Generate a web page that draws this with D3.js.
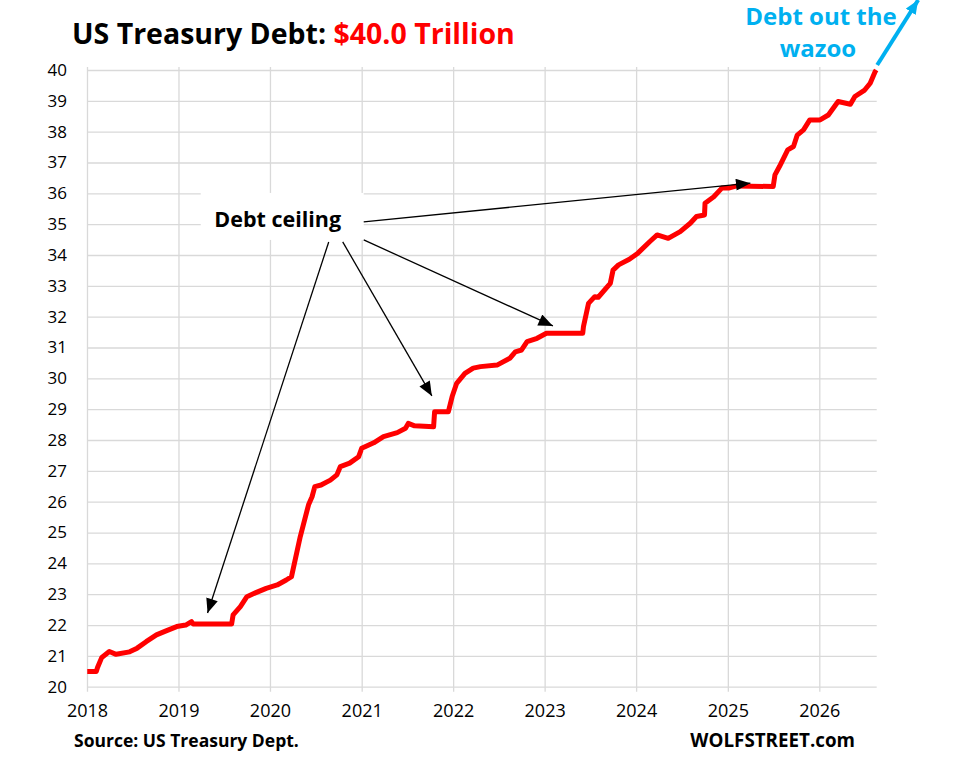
<!DOCTYPE html>
<html>
<head>
<meta charset="utf-8">
<script src="https://cdn.jsdelivr.net/npm/d3@7/dist/d3.min.js"></script>
<style>
  body { margin: 0; background: #fff; }
  svg { display: block; }
  text { font-family: "Open Sans", Lato, sans-serif; }
</style>
</head>
<body>
<div id="chart"></div>
<script>
// Total public debt outstanding, trillions of dollars
const dates = [
  '2018-01-02', '2018-02-07', '2018-02-12', '2018-03-01', '2018-03-31', '2018-04-27',
  '2018-06-20', '2018-07-20', '2018-08-25', '2018-10-05', '2018-11-15', '2018-12-25',
  '2019-01-30', '2019-02-22', '2019-03-01', '2019-08-01', '2019-08-07', '2019-09-05',
  '2019-10-01', '2019-11-06', '2019-12-17', '2020-01-30', '2020-03-06', '2020-03-27',
  '2020-05-01', '2020-06-03', '2020-06-17', '2020-06-28', '2020-07-23', '2020-08-29',
  '2020-09-24', '2020-10-08', '2020-11-14', '2020-12-20', '2021-01-01', '2021-02-18',
  '2021-03-29', '2021-05-23', '2021-06-25', '2021-07-06', '2021-07-31', '2021-10-15',
  '2021-10-19', '2021-12-13', '2021-12-28', '2022-01-15', '2022-02-17', '2022-03-22',
  '2022-04-20', '2022-06-25', '2022-08-15', '2022-09-06', '2022-10-01', '2022-10-23',
  '2022-12-02', '2023-01-08', '2023-06-02', '2023-06-05', '2023-06-25', '2023-07-20',
  '2023-08-03', '2023-09-20', '2023-10-01', '2023-10-23', '2023-12-05', '2024-01-08',
  '2024-02-24', '2024-03-25', '2024-05-08', '2024-06-25', '2024-08-04', '2024-08-29',
  '2024-09-30', '2024-10-02', '2024-11-06', '2024-12-08', '2025-01-04', '2025-02-06',
  '2025-07-01', '2025-07-08', '2025-07-26', '2025-08-28', '2025-09-20', '2025-10-05',
  '2025-10-30', '2025-11-24', '2026-01-04', '2026-02-06', '2026-03-17', '2026-05-05',
  '2026-05-23', '2026-07-01', '2026-07-23', '2026-08-12', '2026-08-16'
];
const debt = [
  20.49, 20.49, 20.62, 20.95, 21.14, 21.05,
  21.13, 21.25, 21.46, 21.68, 21.82, 21.95,
  22.00, 22.11, 22.03, 22.03, 22.33, 22.60,
  22.92, 23.05, 23.19, 23.30, 23.46, 23.57,
  24.87, 25.90, 26.16, 26.49, 26.54, 26.70,
  26.87, 27.14, 27.25, 27.46, 27.73, 27.91,
  28.11, 28.24, 28.38, 28.54, 28.46, 28.43,
  28.92, 28.92, 29.41, 29.84, 30.16, 30.33,
  30.38, 30.43, 30.65, 30.86, 30.92, 31.19,
  31.30, 31.46, 31.46, 31.68, 32.43, 32.65,
  32.63, 33.08, 33.51, 33.68, 33.86, 34.06,
  34.43, 34.65, 34.54, 34.76, 35.03, 35.25,
  35.30, 35.68, 35.89, 36.17, 36.17, 36.24,
  36.22, 36.60, 36.87, 37.41, 37.52, 37.89,
  38.06, 38.38, 38.38, 38.54, 38.98, 38.89,
  39.14, 39.35, 39.57, 39.95, 40.00
];

const yearTicks = [2018, 2019, 2020, 2021, 2022, 2023, 2024, 2025, 2026];
const debtTicks = [20, 21, 22, 23, 24, 25, 26, 27, 28, 29, 30,
                   31, 32, 33, 34, 35, 36, 37, 38, 39, 40];

// debt ceiling call-out: label position and arrow targets, in data units
const ceilingLabel = { date: '2020-02-01', value: 35.17, text: 'Debt ceiling' };
const ceilingTargets = [
  { date: '2025-04-01', value: 36.33 },
  { date: '2023-02-03', value: 31.70 },
  { date: '2021-10-08', value: 29.43 },
  { date: '2019-04-27', value: 22.39 }
];

const width = 962;
const height = 781;
const margin = { top: 70, right: 85.3, bottom: 94.3, left: 87 };
const parse = d3.timeParse('%Y-%m-%d');

const series = dates.map((d, i) => ({ date: parse(d), value: debt[i] }));

const svg = d3.select('#chart')
  .append('svg')
  .attr('width', width)
  .attr('height', height);

const x = d3.scaleTime()
  .domain([new Date(2018, 0, 1), new Date(2026, 7, 18)])
  .range([margin.left, width - margin.right]);

const y = d3.scaleLinear()
  .domain([20, 40])
  .range([height - margin.bottom, margin.top]);

// Y axis + horizontal gridlines
const yAxis = svg.append('g')
  .attr('transform', `translate(${margin.left},0)`)
  .call(d3.axisLeft(y)
    .tickValues(debtTicks)
    .tickSize(-(width - margin.right - margin.left))
    .tickPadding(20)
    .tickFormat(d3.format('d')));
yAxis.select('.domain').remove();
yAxis.selectAll('line').attr('stroke', '#d9d9d9').attr('stroke-width', 1.3);
yAxis.selectAll('text')
  .style('font-size', '17px')
  .attr('fill', '#000');

// X axis + vertical gridlines (they poke a little below the axis)
const xBase = height - margin.bottom + 5;
const xAxis = svg.append('g')
  .attr('transform', `translate(0,${xBase})`)
  .call(d3.axisBottom(x)
    .tickValues(yearTicks.map(yr => new Date(yr, 0, 1)))
    .tickSize(-(xBase - margin.top + 3))
    .tickPadding(13)
    .tickFormat(d3.timeFormat('%Y')));
xAxis.select('.domain').remove();
xAxis.selectAll('line').attr('stroke', '#d9d9d9').attr('stroke-width', 1.3);
xAxis.selectAll('text')
  .style('font-size', '18px')
  .attr('fill', '#000');

// Arrowheads
const defs = svg.append('defs');
defs.append('marker')
  .attr('id', 'arrow-black')
  .attr('markerUnits', 'userSpaceOnUse')
  .attr('viewBox', '0 0 12 10')
  .attr('refX', 12).attr('refY', 5)
  .attr('markerWidth', 15).attr('markerHeight', 12)
  .attr('orient', 'auto')
  .append('path')
  .attr('d', 'M0,0 L12,5 L0,10 Z')
  .attr('fill', '#000');
defs.append('marker')
  .attr('id', 'arrow-blue')
  .attr('markerUnits', 'userSpaceOnUse')
  .attr('viewBox', '0 0 12 10')
  .attr('refX', 12).attr('refY', 5)
  .attr('markerWidth', 14).attr('markerHeight', 12)
  .attr('orient', 'auto')
  .append('path')
  .attr('d', 'M0,0 L12,5 L0,10 Z')
  .attr('fill', '#00b0f0');

// Debt line
const line = d3.line()
  .x(d => x(d.date))
  .y(d => y(d.value));

svg.append('path')
  .datum(series)
  .attr('fill', 'none')
  .attr('stroke', '#ff0000')
  .attr('stroke-width', 5)
  .attr('stroke-linejoin', 'round')
  .attr('d', line);

// Debt ceiling label and arrows
const lx = x(parse(ceilingLabel.date));
const ly = y(ceilingLabel.value);

svg.append('rect')
  .attr('x', lx - 77)
  .attr('y', ly - 26)
  .attr('width', 163)
  .attr('height', 47)
  .attr('fill', '#fff');

svg.append('text')
  .attr('x', lx)
  .attr('y', ly + 8)
  .attr('text-anchor', 'middle')
  .style('font-size', '21.5px')
  .style('font-weight', 'bold')
  .text(ceilingLabel.text);

// starting points of the arrows, relative to the label centre
const arrowStarts = [[86, 3], [86, 21], [65, 23], [51, 23]];

svg.selectAll('.ceiling-arrow')
  .data(ceilingTargets)
  .enter()
  .append('line')
  .attr('class', 'ceiling-arrow')
  .attr('x1', (d, i) => lx + arrowStarts[i][0])
  .attr('y1', (d, i) => ly + arrowStarts[i][1])
  .attr('x2', d => x(parse(d.date)))
  .attr('y2', d => y(d.value))
  .attr('stroke', '#000')
  .attr('stroke-width', 1.3)
  .attr('marker-end', 'url(#arrow-black)');

// "Debt out the wazoo" arrow from the last point
const last = series[series.length - 1];
svg.append('line')
  .attr('x1', x(last.date) + 1)
  .attr('y1', y(last.value) - 5)
  .attr('x2', x(last.date) + 42)
  .attr('y2', y(last.value) - 70)
  .attr('stroke', '#00b0f0')
  .attr('stroke-width', 4)
  .attr('marker-end', 'url(#arrow-blue)');

const wazoo = svg.append('text')
  .attr('text-anchor', 'middle')
  .attr('fill', '#00b0f0')
  .style('font-size', '24px')
  .style('font-weight', 'bold');
wazoo.append('tspan').attr('x', 821).attr('y', 25).text('Debt out the');
wazoo.append('tspan').attr('x', 818).attr('y', 57).text('wazoo');

// Title
const title = svg.append('text')
  .attr('x', 72)
  .attr('y', 44)
  .style('font-size', '28.5px')
  .style('font-weight', 'bold');
title.append('tspan').attr('fill', '#000').text('US Treasury Debt: ');
title.append('tspan').attr('fill', '#ff0000').text('$40.0 Trillion');

// Footer
svg.append('text')
  .attr('x', 74)
  .attr('y', 747)
  .style('font-size', '17.5px')
  .style('font-weight', 'bold')
  .text('Source: US Treasury Dept.');

svg.append('text')
  .attr('x', 855)
  .attr('y', 747)
  .attr('text-anchor', 'end')
  .style('font-size', '18.8px')
  .style('font-weight', 'bold')
  .text('WOLFSTREET.com');
</script>
</body>
</html>
